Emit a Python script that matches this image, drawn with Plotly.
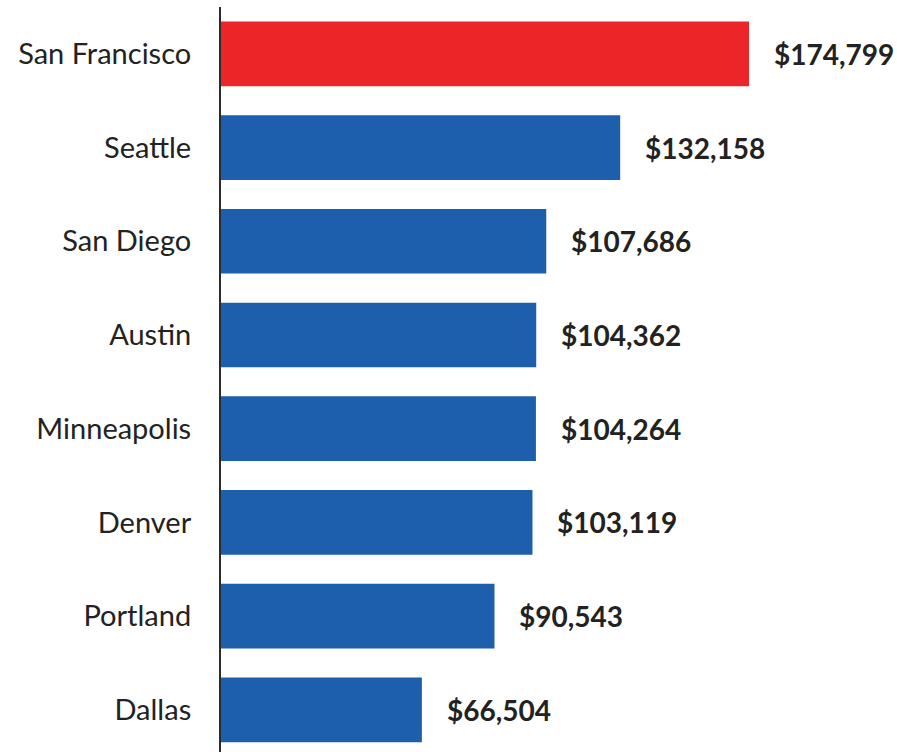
import plotly.graph_objects as go

cities = ["San Francisco", "Seattle", "San Diego", "Austin", "Minneapolis",
          "Denver", "Portland", "Dallas"]
salaries = [174799, 132158, 107686, 104362, 104264, 103119, 90543, 66504]
value_labels = ["$174,799", "$132,158", "$107,686", "$104,362", "$104,264",
                "$103,119", "$90,543", "$66,504"]
bar_colors = ["#EC2528"] + ["#1D5FAD"] * 7

FONT = "Lato, 'Open Sans', sans-serif"

fig = go.Figure()
fig.add_trace(go.Bar(
    x=salaries, y=cities, orientation="h",
    marker=dict(color=bar_colors, line=dict(width=0)),
    hoverinfo="skip",
))

for city, val, lab in zip(cities, salaries, value_labels):
    fig.add_annotation(
        x=val, y=city, xref="x", yref="y", text="<b>%s</b>" % lab,
        showarrow=False, xanchor="left", yanchor="middle", xshift=23,
        font=dict(family=FONT, size=28, color="#222222"),
    )

fig.update_layout(
    width=897, height=752,
    margin=dict(l=221, r=0, t=7, b=0),
    paper_bgcolor="white", plot_bgcolor="white",
    bargap=0.31,
    showlegend=False,
    xaxis=dict(range=[0, 223800], visible=False, showgrid=False, zeroline=False),
    yaxis=dict(
        range=[7.45, -0.5], categoryorder="array", categoryarray=cities,
        showline=True, linecolor="#2a2a2a", linewidth=2,
        ticks="", showgrid=False, ticklabelstandoff=22,
        tickfont=dict(family=FONT, size=29, color="#222222"),
    ),
)
fig.write_html("out.html", config={"displayModeBar": False},
               post_script="document.body.style.margin='0';document.body.style.overflow='hidden';")
